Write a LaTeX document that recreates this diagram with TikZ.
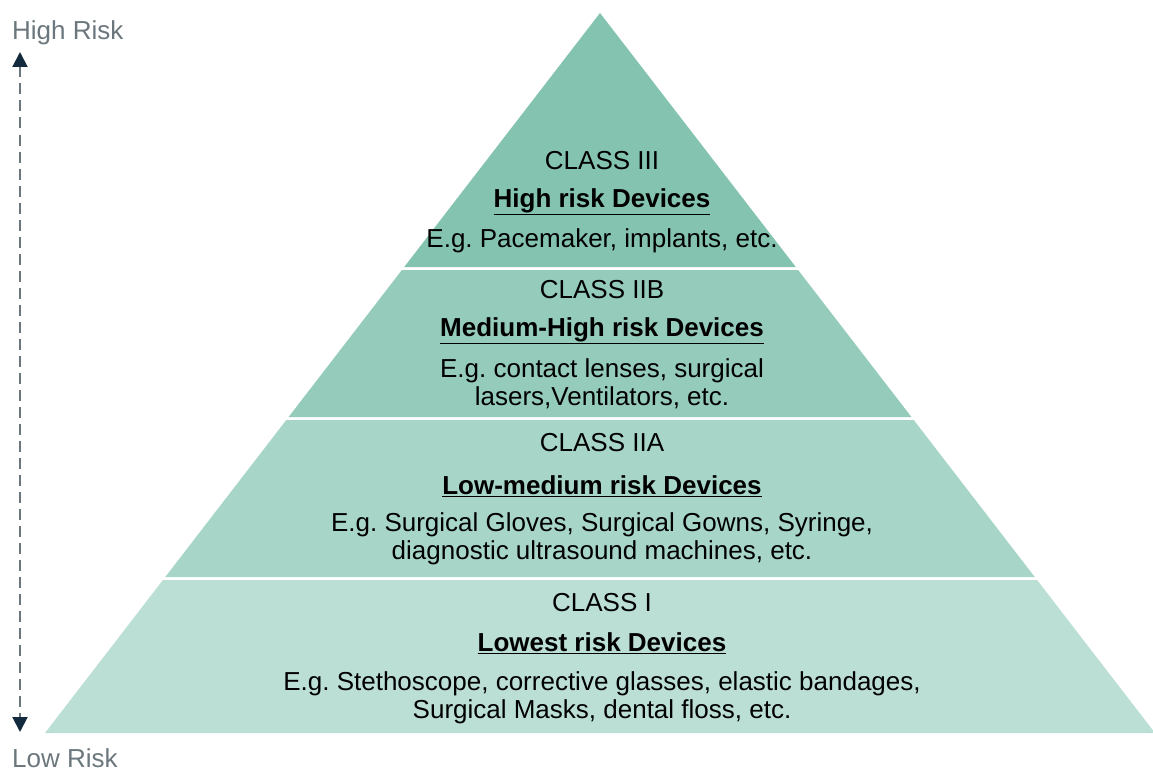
\documentclass[tikz,border=0pt]{standalone}
\usepackage{fontspec}
\setmainfont{Liberation Sans}
\usetikzlibrary{arrows.meta}
\definecolor{bandA}{HTML}{84C3AF}
\definecolor{bandB}{HTML}{94CBBA}
\definecolor{bandC}{HTML}{A7D6C8}
\definecolor{bandD}{HTML}{BBDFD5}
\definecolor{riskgray}{HTML}{6B777C}
\definecolor{tipnavy}{HTML}{13293D}
\frenchspacing
\newcommand\ulbar[1]{\underline{#1}}
\tikzset{
  cls/.style={inner sep=0pt, anchor=center},
  head/.style={cls, font=\fontsize{26}{28}\selectfont\bfseries},
  txt/.style={cls, align=center, font=\fontsize{26}{28}\selectfont},
  risk/.style={inner sep=0pt, text=riskgray, font=\fontsize{26}{28}\selectfont}
}
\begin{document}
\begin{tikzpicture}[x=1pt, y=-1pt, font=\fontsize{26}{28}\selectfont, line join=round]
  \useasboundingbox (0,0) rectangle (1153,773);
  \def\ax{600} \def\ay{13} % apex
  \def\hw{555} \def\h{720} % half base, height
  % bands
  \foreach \yt/\yb/\col in {13/267/bandA, 270/417/bandB, 420/577/bandC, 580/733/bandD}{
    \pgfmathsetmacro\wt{\hw/\h*(\yt-\ay)}
    \pgfmathsetmacro\wb{\hw/\h*(\yb-\ay)}
    \fill[\col] (\ax-\wt,\yt) -- (\ax+\wt,\yt) -- (\ax+\wb,\yb) -- (\ax-\wb,\yb) -- cycle;
  }
  % risk axis
  \node[risk, anchor=base west] (hi) at (12,40) {High Risk};
  \node[risk, anchor=base west] (lo) at (12,767) {Low Risk};
  \coordinate (top) at (20,52);
  \coordinate (bot) at (20,732);
  \draw[riskgray, line width=2pt, dash pattern=on 11pt off 6pt,
    {Triangle[color=tipnavy,width=15pt,length=15pt]}-{Triangle[color=tipnavy,width=15pt,length=15pt]}]
    (top) -- (bot);
  % class III
  \node[cls] (c3) at (602,161) {CLASS III};
  \node[head] (h3) at (602,202) {\ulbar{High risk Devices}};
  \node[txt] (e3) at (602,241) {E.g. Pacemaker, implants, etc.};
  % class IIB
  \node[cls] (c2b) at (602,290) {CLASS IIB};
  \node[head] (h2b) at (602,331) {\ulbar{Medium-High risk Devices}};
  \node[txt] (e2b) at (602,384) {E.g. contact lenses, surgical\\lasers,Ventilators, etc.};
  % class IIA
  \node[cls] (c2a) at (602,443) {CLASS IIA};
  \node[head] (h2a) at (602,486) {\ulbar{Low-medium risk Devices}};
  \node[txt] (e2a) at (602,539) {E.g. Surgical Gloves, Surgical Gowns, Syringe,\\diagnostic ultrasound machines, etc.};
  % class I
  \node[cls] (c1) at (602,603) {CLASS I};
  \node[head] (h1) at (602,643) {\ulbar{Lowest risk Devices}};
  \node[txt] (e1) at (602,698) {E.g. Stethoscope, corrective glasses, elastic bandages,\\Surgical Masks, dental floss, etc.};
\end{tikzpicture}
\end{document}
